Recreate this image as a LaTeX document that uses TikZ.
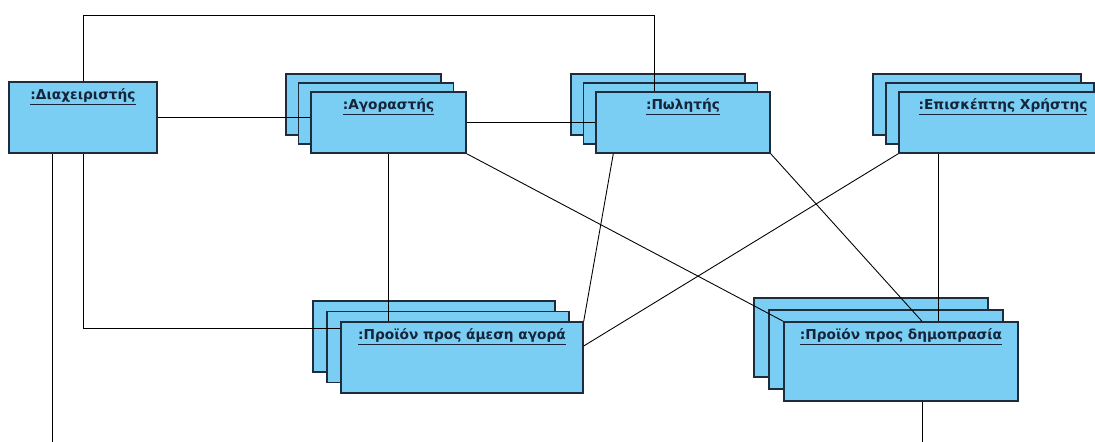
\documentclass[tikz,border=0pt]{standalone}
\usepackage{fontspec}
\setmainfont{DejaVu Sans}
\usetikzlibrary{shadows,calc}

\definecolor{objfill}{RGB}{122,206,243}
\definecolor{objline}{RGB}{30,44,62}
\definecolor{objtext}{RGB}{22,36,58}

\tikzset{
  obj/.style={rectangle, draw=objline, fill=objfill, line width=.8pt, inner sep=0pt,
    label={[anchor=north, yshift=-.1cm, inner sep=1pt, text=objtext,
      font=\fontsize{7.8}{9}\selectfont\bfseries]north:\underline{#1}}},
  % two copies behind the object, up and to the left
  stack/.style args={#1/#2}{
    copy shadow={shadow xshift=-2*#1cm, shadow yshift=2*#2cm, fill=objfill, draw=objline, line width=.8pt},
    copy shadow={shadow xshift=-#1cm, shadow yshift=#2cm, fill=objfill, draw=objline, line width=.8pt}},
  link/.style={draw=black, line width=.5pt}
}

\begin{document}
\begin{tikzpicture}
\useasboundingbox (0,0) rectangle (21.9,-8.82);

 % objects
 \node[obj=:Διαχειριστής, minimum width=2.96cm, minimum height=1.42cm] (diax) at (1.66,-2.35) {};
 \node[obj=:Αγοραστής, stack=.25/.18, minimum width=3.1cm, minimum height=1.22cm] (agor) at (7.77,-2.45) {};
 \node[obj=:Πωλητής, stack=.25/.18, minimum width=3.48cm, minimum height=1.22cm] (pol) at (13.66,-2.45) {};
 \node[obj=:Επισκέπτης Χρήστης, stack=.26/.18, minimum width=4.16cm, minimum height=1.22cm] (epis) at (20.06,-2.45) {};
 \node[obj=:Προϊόν προς άμεση αγορά, stack=.28/.21, minimum width=4.84cm, minimum height=1.42cm] (ames) at (9.24,-7.15) {};
 \node[obj=:Προϊόν προς δημοπρασία, stack=.3/.24, minimum width=4.68cm, minimum height=1.58cm] (dimo) at (18.02,-7.23) {};

 \coordinate (bend) at (13.08,-.3);
 \coordinate (endA) at (1.04,-8.9);
 \coordinate (endB) at (18.44,-8.9);

 % links
 \path[link] (diax.north) |- (bend) -- (bend |- pol.north);
 \path[link] (diax.east) -- (diax.east -| agor.west);
 \path[link] (agor.east) -- (pol.west);
 \path[link] (agor.south) -- (agor.south |- ames.north);
 \path[link] (diax.south) |- ([yshift=.59cm]ames.west);
 \path[link] (diax.south -| endA) -- (endA);
 \path[link] (agor.south east) -- (dimo.north west);
 \path[link] ([xshift=.36cm]pol.south west) -- (ames.north east);
 \path[link] (pol.south east) -- ([xshift=.42cm]dimo.north);
 \path[link] (epis.south west) -- ([yshift=.23cm]ames.east);
 \path[link] ([xshift=-1.3cm]epis.south) -- ([xshift=-1.3cm]epis.south |- dimo.north);
 \path[link] (dimo.south -| endB) -- (endB);
\end{tikzpicture}
\end{document}
